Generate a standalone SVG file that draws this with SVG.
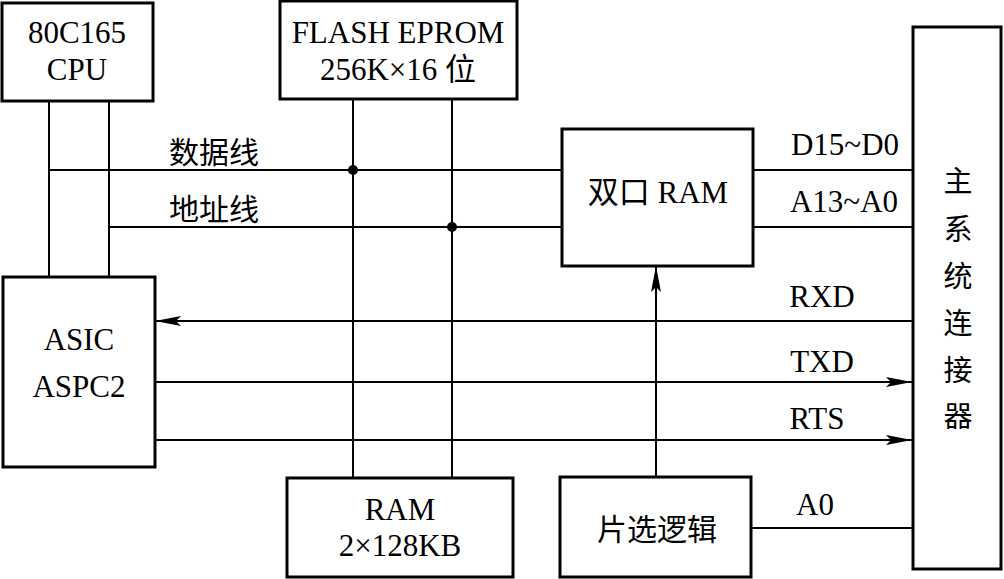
<svg xmlns="http://www.w3.org/2000/svg" width="1004" height="579" viewBox="0 0 1004 579">
<defs>
<style>
.box{fill:#fff;stroke:#000;stroke-width:3}
.ln{fill:none;stroke:#000;stroke-width:2}
text{fill:#000;text-anchor:middle}
.t{font-family:'Liberation Serif','DejaVu Serif','Noto Sans CJK SC',serif;font-size:31px}
.c{font-family:'Noto Sans CJK SC',sans-serif;font-size:30px}
.v{font-family:'Noto Sans CJK SC',sans-serif;font-size:29px}
</style>
<marker id="ah" viewBox="0 0 26 10" refX="26" refY="5" markerWidth="26" markerHeight="10" markerUnits="userSpaceOnUse" orient="auto">
<path d="M0,0 L26,5 L0,10 L5,5 Z" fill="#000"/>
</marker>
</defs>
<rect width="1004" height="579" fill="#fff"/>
<g id="connectors">
<path class="ln" d="M49,101 V277 M109,101 V277"/>
<path class="ln" d="M49,170 H562 M109,227 H562"/>
<path class="ln" d="M353,99 V478 M452,99 V478"/>
<path class="ln" d="M753,170 H913 M753,227 H913"/>
<path class="ln" d="M913,321 H155" marker-end="url(#ah)"/>
<path class="ln" d="M155,382 H912" marker-end="url(#ah)"/>
<path class="ln" d="M155,440 H912" marker-end="url(#ah)"/>
<path class="ln" d="M656,477 V266" marker-end="url(#ah)"/>
<path class="ln" d="M751,528 H913"/>
<circle cx="353" cy="170" r="5" fill="#000"/>
<circle cx="452" cy="227" r="5" fill="#000"/>
<text class="c" x="214" y="163">数据线</text>
<text class="c" x="214" y="220">地址线</text>
<text class="t" x="845" y="155">D15~D0</text>
<text class="t" x="844" y="212">A13~A0</text>
<text class="t" x="822" y="307">RXD</text>
<text class="t" x="822" y="372">TXD</text>
<text class="t" x="817" y="429">RTS</text>
<text class="t" x="815" y="515">A0</text>
</g>
<g id="cpu">
<rect class="box" x="2" y="3" width="151" height="98"/>
<text class="t" x="77" y="43">80C165</text>
<text class="t" x="77" y="80">CPU</text>
</g>
<g id="flash">
<rect class="box" x="280" y="1" width="237" height="98"/>
<text class="t" x="398" y="43">FLASH EPROM</text>
<text class="t" x="398" y="80">256K×16 位</text>
</g>
<g id="asic">
<rect class="box" x="3" y="277" width="152" height="190"/>
<text class="t" x="79" y="350">ASIC</text>
<text class="t" x="79" y="397">ASPC2</text>
</g>
<g id="ram">
<rect class="box" x="287" y="478" width="226" height="99"/>
<text class="t" x="400" y="520">RAM</text>
<text class="t" x="400" y="556">2×128KB</text>
</g>
<g id="dualram">
<rect class="box" x="562" y="129" width="191" height="137"/>
<text class="t" x="658" y="203">双口 RAM</text>
</g>
<g id="cs">
<rect class="box" x="560" y="477" width="191" height="100"/>
<text class="c" x="657" y="540">片选逻辑</text>
</g>
<g id="connector">
<rect class="box" x="913" y="27" width="88" height="542"/>
<text class="v" x="958" y="192">主</text>
<text class="v" x="958" y="240">系</text>
<text class="v" x="958" y="287">统</text>
<text class="v" x="958" y="334">连</text>
<text class="v" x="958" y="381">接</text>
<text class="v" x="958" y="427">器</text>
</g>
</svg>
